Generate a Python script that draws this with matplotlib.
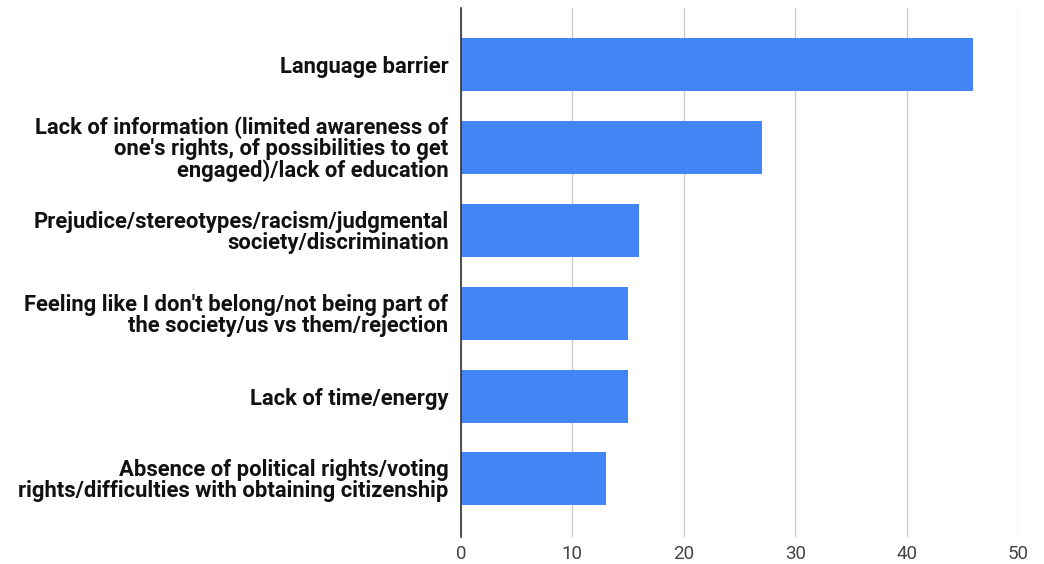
import matplotlib
matplotlib.use("Agg")
import matplotlib.pyplot as plt

categories = [
    "Language barrier",
    "Lack of information (limited awareness of\none's rights, of possibilities to get\nengaged)/lack of education",
    "Prejudice/stereotypes/racism/judgmental\nsociety/discrimination",
    "Feeling like I don't belong/not being part of\nthe society/us vs them/rejection",
    "Lack of time/energy",
    "Absence of political rights/voting\nrights/difficulties with obtaining citizenship",
]
values = [46, 27, 16, 15, 15, 13]
xticks = [0, 10, 20, 30, 40, 50]

plt.rcParams['font.family'] = ['Roboto', 'DejaVu Sans']

fig = plt.figure(figsize=(10.44, 5.64), dpi=100)
ax = fig.add_axes([461/1044, 1-537/564, (1018-461)/1044, (537-8)/564])

y = list(range(len(categories)))
ax.barh(y, values, height=0.64, color="#4285F4", zorder=3)
ax.set_ylim(5.7, -0.68)
ax.set_xlim(0, 50)
ax.set_xticks(xticks)
ax.set_xticklabels([str(t) for t in xticks], fontsize=13.5, color="#444444")
ax.set_yticks(y)
ax.set_yticklabels(categories, fontsize=15.8, fontweight="bold", color="#111111",
                   linespacing=0.94)
ax.tick_params(axis="both", length=0)
ax.tick_params(axis="x", pad=6)
ax.tick_params(axis="y", pad=9)
ax.grid(axis="x", color="#cccccc", linewidth=1, zorder=0)
for s in ["top", "right", "bottom"]:
    ax.spines[s].set_visible(False)
ax.spines["left"].set_color("#333333")
ax.spines["left"].set_linewidth(1.2)
ax.spines["left"].set_zorder(4)

fig.savefig("out.png", dpi=100)
